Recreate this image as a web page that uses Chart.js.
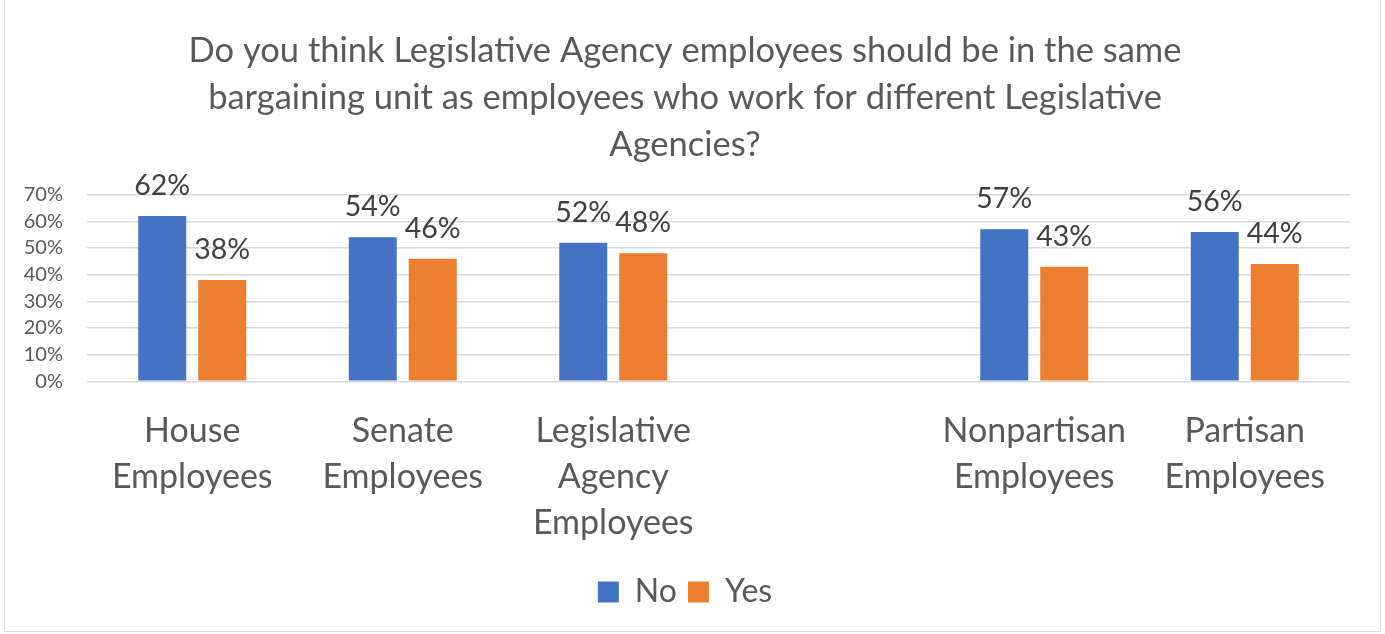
<!DOCTYPE html>
<html>
<head>
<meta charset="utf-8">
<script src="https://cdn.jsdelivr.net/npm/chart.js@4/dist/chart.umd.min.js"></script>
<style>
  html, body { margin: 0; padding: 0; background: #fff; }
  .frame { position: absolute; left: 4px; top: -2px; width: 1375px; height: 632px; border: 1.5px solid #d9d9d9; }
  .wrap { position: absolute; left: 0; top: 0; width: 1385px; height: 634px; }
</style>
</head>
<body>
<div class="frame"></div>
<div class="wrap"><canvas id="chart"></canvas></div>
<script>
const categories = [
  ['House', 'Employees'],
  ['Senate', 'Employees'],
  ['Legislative', 'Agency', 'Employees'],
  '',
  ['Nonpartisan', 'Employees'],
  ['Partisan', 'Employees'],
];
const noValues = [62, 54, 52, null, 57, 56];
const yesValues = [38, 46, 48, null, 43, 44];
const yTicks = [0, 10, 20, 30, 40, 50, 60, 70];

const FONT = 'Lato, "Open Sans", sans-serif';

// percent labels above each bar
const barLabels = {
  id: 'barLabels',
  afterDatasetsDraw(chart) {
    const ctx = chart.ctx;
    ctx.save();
    ctx.font = '28.5px ' + FONT;
    ctx.fillStyle = '#404040';
    ctx.textAlign = 'center';
    ctx.textBaseline = 'alphabetic';
    chart.data.datasets.forEach((ds, i) => {
      chart.getDatasetMeta(i).data.forEach((bar, j) => {
        if (ds.data[j] == null) return;
        ctx.fillText(ds.data[j] + '%', bar.x, bar.y - 21);
      });
    });
    ctx.restore();
  }
};

new Chart(document.getElementById('chart'), {
  type: 'bar',
  data: {
    labels: categories,
    datasets: [
      { label: 'No', data: noValues, backgroundColor: '#4472C4', categoryPercentage: 0.57, barPercentage: 0.8 },
      { label: 'Yes', data: yesValues, backgroundColor: '#ED7D31', categoryPercentage: 0.57, barPercentage: 0.8 },
    ],
  },
  options: {
    responsive: true,
    maintainAspectRatio: false,
    animation: false,
    layout: { padding: { left: 20, right: 35, top: 28, bottom: 16 } },
    plugins: {
      title: {
        display: true,
        text: [
          'Do you think Legislative Agency employees should be in the same',
          'bargaining unit as employees who work for different Legislative',
          'Agencies?',
        ],
        color: '#595959',
        font: { family: FONT, size: 34.5, weight: 'normal', lineHeight: 1.35 },
        padding: { top: 0, bottom: 27 },
      },
      legend: {
        position: 'bottom',
        labels: {
          color: '#595959',
          font: { family: FONT, size: 32 },
          boxWidth: 21,
          boxHeight: 21,
          padding: 11,
        },
      },
      tooltip: { enabled: false },
    },
    scales: {
      x: {
        grid: { display: false },
        border: { display: false },
        ticks: { color: '#595959', font: { family: FONT, size: 34, lineHeight: 1.35 }, maxRotation: 0, autoSkip: false, padding: 19 },
      },
      y: {
        min: 0,
        max: 70,
        afterBuildTicks(axis) { axis.ticks = yTicks.map(v => ({ value: v })); },
        afterFit(axis) { axis.width = 67; },
        grid: { color: '#d9d9d9', lineWidth: 1.5, drawTicks: false },
        border: { display: false },
        ticks: { color: '#595959', font: { family: FONT, size: 20 }, padding: 24, autoSkip: false, callback: v => v + '%' },
      },
    },
  },
  plugins: [barLabels],
});
</script>
</body>
</html>
